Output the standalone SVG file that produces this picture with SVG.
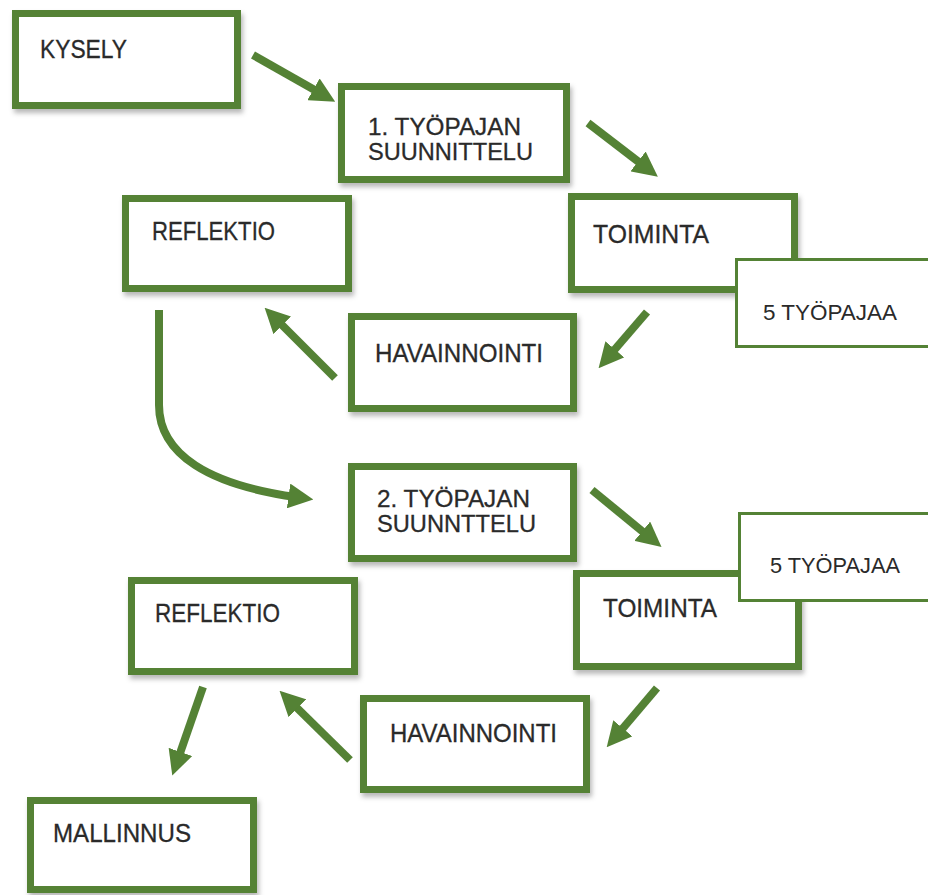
<svg xmlns="http://www.w3.org/2000/svg" width="928" height="895" viewBox="0 0 928 895">
<defs>
<filter id="sh" x="-10%" y="-10%" width="125%" height="135%">
<feDropShadow dx="2" dy="4" stdDeviation="2.5" flood-color="#000" flood-opacity="0.28"/>
</filter>
<marker id="ah" viewBox="0 0 10 10" markerWidth="25" markerHeight="25" markerUnits="userSpaceOnUse" refX="3" refY="5" orient="auto">
<path d="M0,0 L10,5 L0,10 z" fill="#548235"/>
</marker>
</defs>
<style>
.box{fill:#fff;stroke:#548235;stroke-width:7;filter:url(#sh)}
.note{fill:#fff;stroke:#548235;stroke-width:3}
.lbl{font-family:"Liberation Sans",Arial,sans-serif;font-size:25.5px;fill:#2a2a2a;stroke:#2a2a2a;stroke-width:0.3}
.lbl2{font-family:"Liberation Sans",Arial,sans-serif;font-size:24px;fill:#2a2a2a;stroke:#2a2a2a;stroke-width:0.3}
.nlbl{font-family:"Liberation Sans",Arial,sans-serif;font-size:22px;fill:#2a2a2a}
.arr{fill:none;stroke:#548235;stroke-width:8;marker-end:url(#ah)}
</style>
<rect width="928" height="895" fill="#fff"/>
<g id="connectors">
<line class="arr" x1="253" y1="55" x2="320" y2="93"/>
<line class="arr" x1="588" y1="123" x2="644" y2="166"/>
<line class="arr" x1="647" y1="312" x2="610" y2="355"/>
<line class="arr" x1="335" y1="378" x2="277" y2="320"/>
<path class="arr" d="M159,310 V405 C159,455 210,485 296,497"/>
<line class="arr" x1="592" y1="490" x2="648" y2="536"/>
<line class="arr" x1="657" y1="688" x2="618" y2="734"/>
<line class="arr" x1="350" y1="760" x2="292" y2="703"/>
<line class="arr" x1="203" y1="687" x2="178" y2="759"/>
</g>
<g id="kysely">
<rect class="box" x="15.5" y="13.5" width="222" height="92"/>
<text class="lbl" x="40" y="58" textLength="87" lengthAdjust="spacingAndGlyphs">KYSELY</text>
</g>
<g id="tyopaja1">
<rect class="box" x="341.5" y="86.5" width="225" height="93"/>
<text class="lbl2" x="368" y="135" textLength="153" lengthAdjust="spacingAndGlyphs">1. TYÖPAJAN</text>
<text class="lbl2" x="368" y="160" textLength="165" lengthAdjust="spacingAndGlyphs">SUUNNITTELU</text>
</g>
<g id="toiminta1">
<rect class="box" x="571.5" y="196.5" width="223" height="93"/>
<text class="lbl" x="593" y="243" textLength="116" lengthAdjust="spacingAndGlyphs">TOIMINTA</text>
</g>
<g id="note1">
<rect class="note" x="736.5" y="259.5" width="200" height="87"/>
<text class="nlbl" x="763" y="320" textLength="134" lengthAdjust="spacingAndGlyphs">5 TYÖPAJAA</text>
</g>
<g id="reflektio1">
<rect class="box" x="125.5" y="198.5" width="223" height="90"/>
<text class="lbl" x="152" y="240" textLength="123" lengthAdjust="spacingAndGlyphs">REFLEKTIO</text>
</g>
<g id="havainnointi1">
<rect class="box" x="351.5" y="316.5" width="222" height="92"/>
<text class="lbl" x="375" y="362" textLength="168" lengthAdjust="spacingAndGlyphs">HAVAINNOINTI</text>
</g>
<g id="tyopaja2">
<rect class="box" x="351.5" y="466.5" width="222" height="92"/>
<text class="lbl2" x="377" y="507" textLength="153" lengthAdjust="spacingAndGlyphs">2. TYÖPAJAN</text>
<text class="lbl2" x="377" y="532" textLength="159" lengthAdjust="spacingAndGlyphs">SUUNNTTELU</text>
</g>
<g id="toiminta2">
<rect class="box" x="576.5" y="573.5" width="222" height="93"/>
<text class="lbl" x="603" y="617" textLength="114" lengthAdjust="spacingAndGlyphs">TOIMINTA</text>
</g>
<g id="note2">
<rect class="note" x="739.5" y="513.5" width="200" height="87"/>
<text class="nlbl" x="770" y="573" textLength="130" lengthAdjust="spacingAndGlyphs">5 TYÖPAJAA</text>
</g>
<g id="reflektio2">
<rect class="box" x="131.5" y="580.5" width="223" height="91"/>
<text class="lbl" x="155" y="622" textLength="125" lengthAdjust="spacingAndGlyphs">REFLEKTIO</text>
</g>
<g id="havainnointi2">
<rect class="box" x="363.5" y="698.5" width="223" height="91"/>
<text class="lbl" x="390" y="742" textLength="167" lengthAdjust="spacingAndGlyphs">HAVAINNOINTI</text>
</g>
<g id="mallinnus">
<rect class="box" x="30.5" y="800.5" width="223" height="89"/>
<text class="lbl" x="53" y="842" textLength="138" lengthAdjust="spacingAndGlyphs">MALLINNUS</text>
</g>
</svg>
